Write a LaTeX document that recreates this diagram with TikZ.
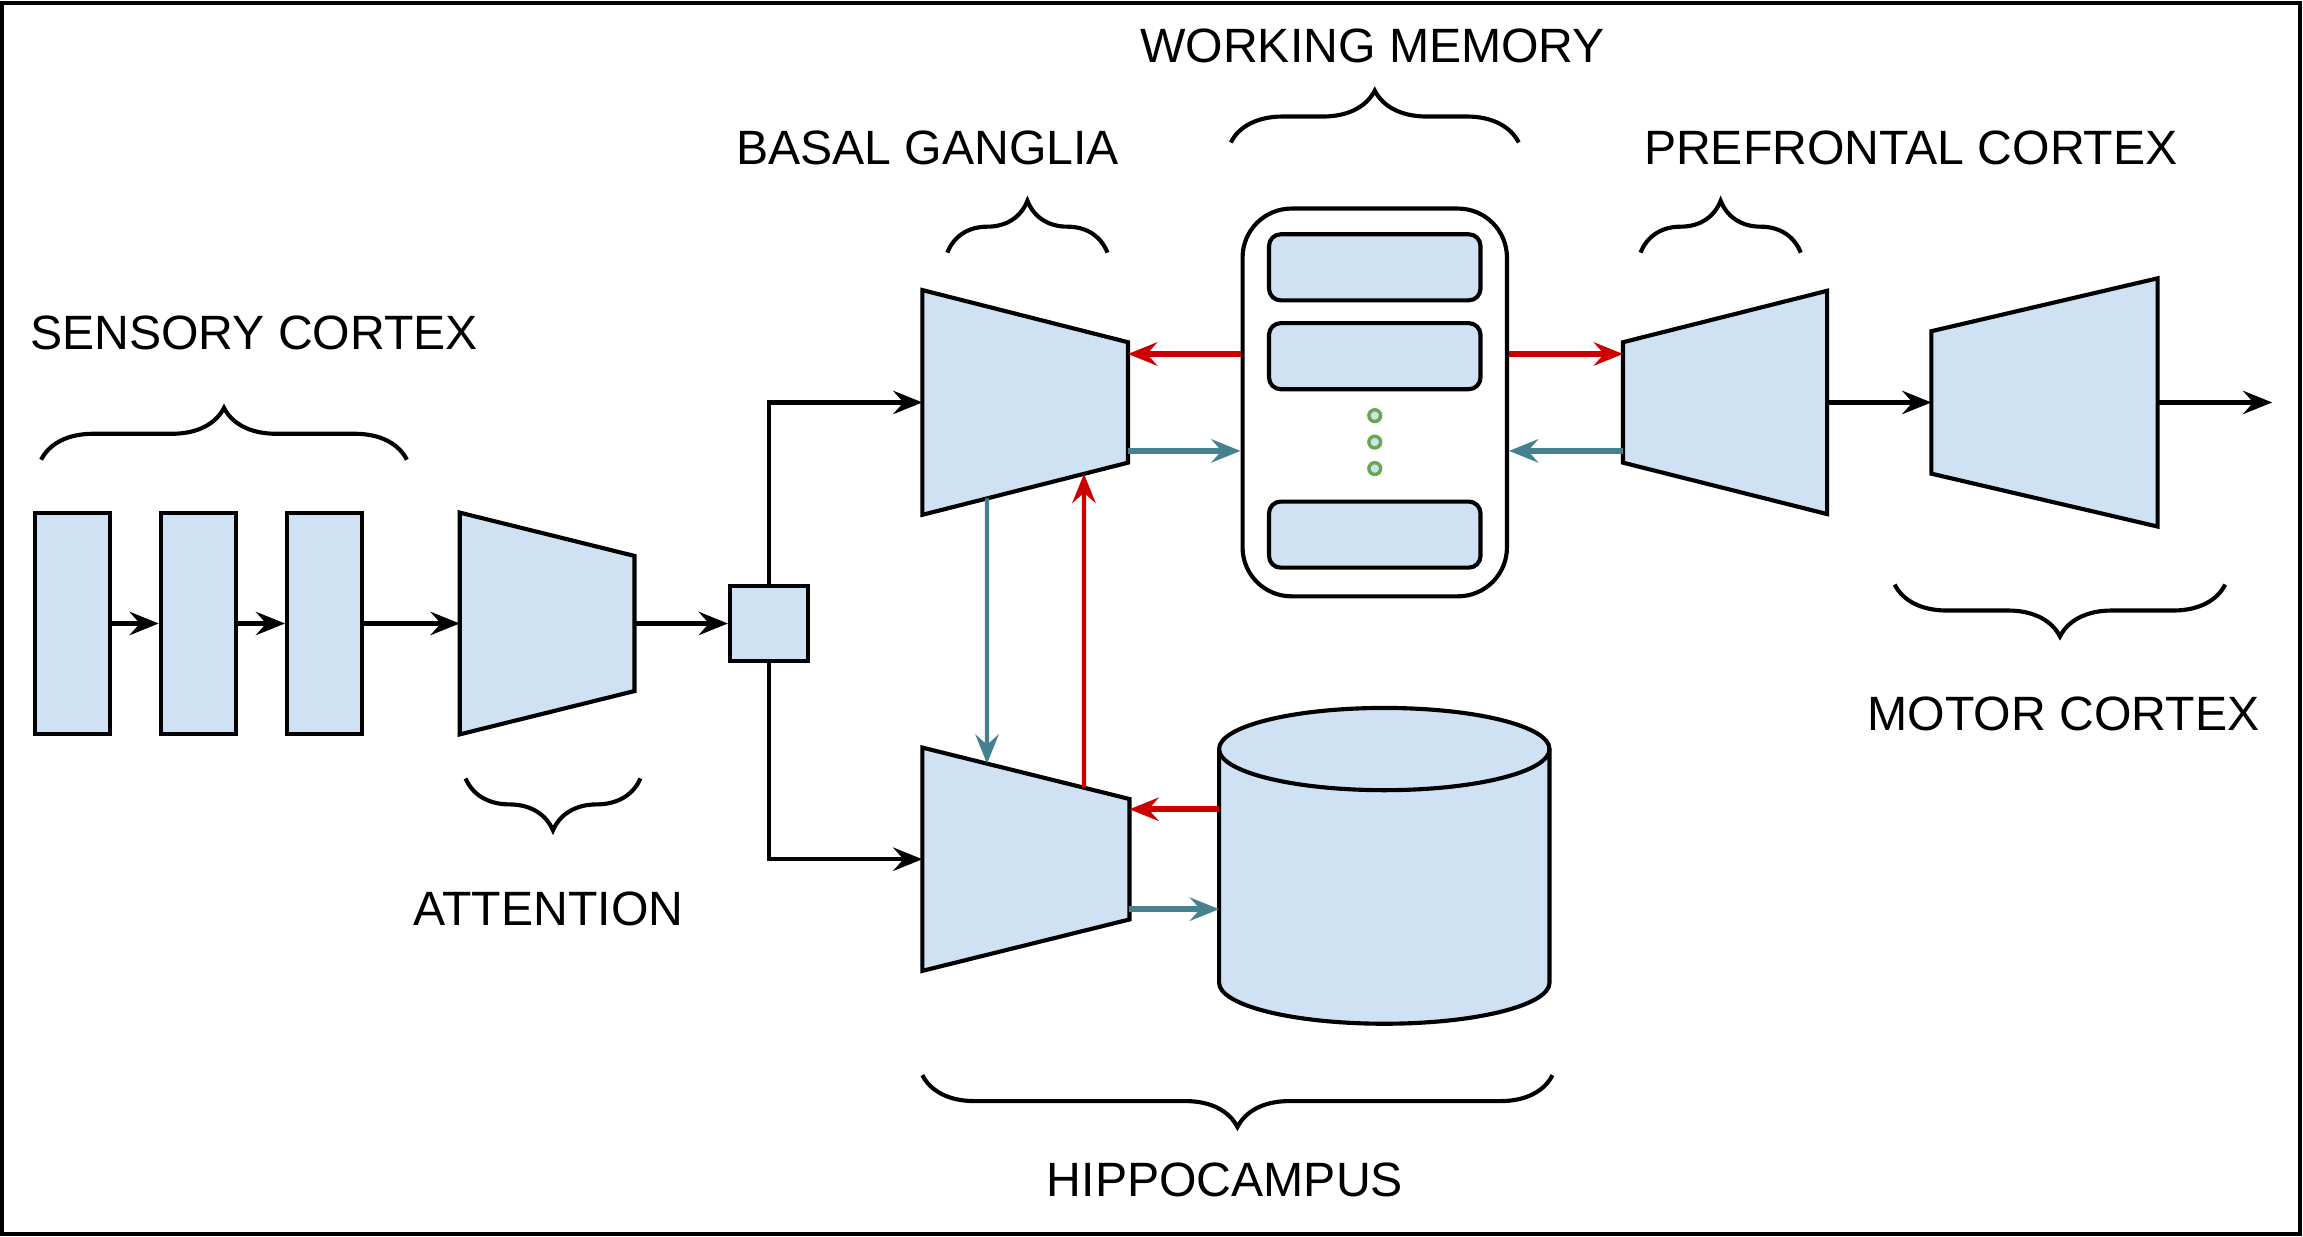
\documentclass[tikz,border=0pt]{standalone}
\usepackage{fontspec}
\setmainfont{Liberation Sans}
\usepackage{tikz}
\usetikzlibrary{arrows.meta, calc, decorations.pathreplacing}
\definecolor{blockblue}{HTML}{CFE2F3}
\definecolor{arrowred}{HTML}{CC0000}
\definecolor{arrowteal}{HTML}{45818E}
\definecolor{dotgreen}{HTML}{6AA84F}
\tikzset{
  font={\fontsize{14pt}{16pt}\selectfont}}

\begin{document}
\begin{tikzpicture}[x=0.015cm, y=-0.015cm,
  cell/.style={draw, fill=blockblue, line width=1.2pt, inner sep=0pt},
  tbox/.style={inner sep=0pt, outer sep=0pt},
  tshape/.style={draw, fill=blockblue, line width=1.2pt, line join=miter},
  slot/.style={cell, rounded corners=0.12cm, minimum width=2.16cm, minimum height=0.675cm},
  wmdot/.style={circle, draw=dotgreen, fill=blockblue, line width=1pt, minimum size=0.12cm, inner sep=0pt},
  arr/.style={-{Stealth[length=8.5pt, width=6.8pt, inset=3pt]}, line width=1.2pt},
  redarr/.style={arr, draw=arrowred, line width=1.7pt},
  tealarr/.style={arr, draw=arrowteal, line width=1.7pt},
  curly/.style={decorate, decoration={brace, amplitude=0.53cm}, line width=1.2pt},
  curlyd/.style={curly, decoration={mirror}},
  lbl/.style={inner sep=0pt}]
  \useasboundingbox (0,0) rectangle (1568,842);
  \draw[line width=1.3pt] (1.5,2) rectangle (1566,840);

  % sensory cortex and attention
  \node[cell, minimum width=0.765cm, minimum height=2.265cm] (sc1) at (49.5,424.5) {};
  \node[cell, minimum width=0.765cm, minimum height=2.265cm] (sc2) at (135,424.5) {};
  \node[cell, minimum width=0.765cm, minimum height=2.265cm] (sc3) at (221,424.5) {};
  \node[tbox, minimum width=1.785cm, minimum height=2.265cm] (att) at (372.5,424.5) {};
  \filldraw[tshape] (att.north west) -- ($(att.north east)+(0,29.5)$) -- ($(att.south east)+(0,-29.5)$) -- (att.south west) -- cycle;
  \node[cell, minimum width=0.795cm, minimum height=0.765cm] (hub) at (523.5,424.5) {};

  % basal ganglia and hippocampus
  \node[tbox, minimum width=2.1cm, minimum height=2.295cm] (bg) at (698,274) {};
  \coordinate (bg-a) at (bg.north west);
  \coordinate (bg-b) at ($(bg.north east)+(0,35.5)$);
  \coordinate (bg-c) at ($(bg.south east)+(0,-35.5)$);
  \coordinate (bg-d) at (bg.south west);
  \filldraw[tshape] (bg-a) -- (bg-b) -- (bg-c) -- (bg-d) -- cycle;
  \node[tbox, minimum width=2.115cm, minimum height=2.28cm] (hip) at (698.5,585) {};
  \coordinate (hip-a) at (hip.north west);
  \coordinate (hip-b) at ($(hip.north east)+(0,35)$);
  \coordinate (hip-c) at ($(hip.south east)+(0,-35)$);
  \coordinate (hip-d) at (hip.south west);
  \filldraw[tshape] (hip-a) -- (hip-b) -- (hip-c) -- (hip-d) -- cycle;
  \node[tbox, minimum width=3.375cm, minimum height=3.225cm] (mem) at (942.5,589.5) {};
  \filldraw[tshape] ($(mem.north west)+(0,28)$) -- ($(mem.south west)+(0,-28)$)
    arc[start angle=180, end angle=360, x radius=1.6875cm, y radius=0.42cm]
    -- ($(mem.north east)+(0,28)$)
    arc[start angle=0, end angle=180, x radius=1.6875cm, y radius=0.42cm] -- cycle;
  \draw[line width=1.2pt] ($(mem.north west)+(0,28)$)
    arc[start angle=180, end angle=360, x radius=1.6875cm, y radius=0.42cm];

  % working memory
  \node[draw, fill=white, rounded corners=0.5cm, line width=1.2pt, minimum width=2.7cm, minimum height=3.96cm] (wm) at (936,274) {};
  \node[slot] (wm1) at (936,182) {};
  \node[slot] (wm2) at (936,242.5) {};
  \node[slot] (wm3) at (936,364) {};
  \foreach \y [count=\i] in {283,301,319}
    \node[wmdot] (d\i) at (936,\y) {};

  % prefrontal and motor cortex
  \node[tbox, minimum width=2.085cm, minimum height=2.28cm] (pfc) at (1174.5,274) {};
  \filldraw[tshape] ($(pfc.north west)+(0,35)$) -- (pfc.north east) -- (pfc.south east) -- ($(pfc.south west)+(0,-35)$) -- cycle;
  \node[tbox, minimum width=2.31cm, minimum height=2.535cm] (mc) at (1392,274) {};
  \filldraw[tshape] ($(mc.north west)+(0,36)$) -- (mc.north east) -- (mc.south east) -- ($(mc.south west)+(0,-36)$) -- cycle;
  \coordinate (out) at (1547,274);

  % labels
  \node[lbl] (t-sc) at (173,227) {SENSORY CORTEX};
  \node[lbl] (t-att) at (373.5,619) {ATTENTION};
  \node[lbl] (t-bg) at (631.5,101) {BASAL GANGLIA};
  \node[lbl] (t-wm) at (934.5,31) {WORKING MEMORY};
  \node[lbl] (t-pfc) at (1301,101) {PREFRONTAL CORTEX};
  \node[lbl] (t-mc) at (1405,486) {MOTOR CORTEX};
  \node[lbl] (t-hip) at (834,803) {HIPPOCAMPUS};

  % braces
  \draw[curly] (28,313) -- (277,313);
  \draw[curly] (645,172) -- (754,172);
  \draw[curly] (838,97) -- (1034,97);
  \draw[curly] (1117,172) -- (1226,172);
  \draw[curlyd] (317,530) -- (436,530);
  \draw[curlyd] (1290,398) -- (1515,398);
  \draw[curlyd] (628,732) -- (1057,732);

  % feed-forward path
  \draw[arr] (sc1) -- (sc2);
  \draw[arr] (sc2) -- (sc3);
  \draw[arr] (sc3) -- (att);
  \draw[arr] (att) -- (hub);
  \draw[arr] (hub.north) |- (bg);
  \draw[arr] (hub.south) |- (hip);
  \draw[arr] (pfc.east) -- (mc.west);
  \draw[arr] (mc.east) -- (out);

  % working memory links
  \coordinate (wmA) at ($(wm.west)+(0,-33)$);
  \coordinate (wmB) at ($(wm.west)+(0,33)$);
  \coordinate (wmC) at ($(wm.east)+(0,-33)$);
  \coordinate (wmD) at ($(wm.east)+(0,33)$);
  \draw[redarr] (wmA) -- (wmA -| bg.east);
  \draw[tealarr] (wmB -| bg.east) -- (wmB);
  \draw[redarr] (wmC) -- (wmC -| pfc.west);
  \draw[tealarr] (wmD -| pfc.west) -- (wmD);

  % hippocampus links
  \coordinate (hpA) at ($(hip.east)+(0,-34)$);
  \coordinate (hpB) at ($(hip.east)+(0,34)$);
  \draw[redarr] (hpA -| mem.west) -- (hpA);
  \draw[tealarr] (hpB) -- (hpB -| mem.west);

  % between basal ganglia and hippocampus
  \coordinate (tx) at ($(bg.center)+(-26,0)$);
  \coordinate (tx2) at (tx |- hip.center);
  \coordinate (rx) at ($(bg.center)+(40,0)$);
  \coordinate (rx2) at (rx |- hip.center);
  \draw[tealarr, line width=1.2pt] (intersection of bg-d--bg-c and tx--tx2) -- (intersection of hip-a--hip-b and tx--tx2);
  \draw[redarr, line width=1.2pt] (intersection of hip-a--hip-b and rx--rx2) -- (intersection of bg-d--bg-c and rx--rx2);
\end{tikzpicture}
\end{document}
